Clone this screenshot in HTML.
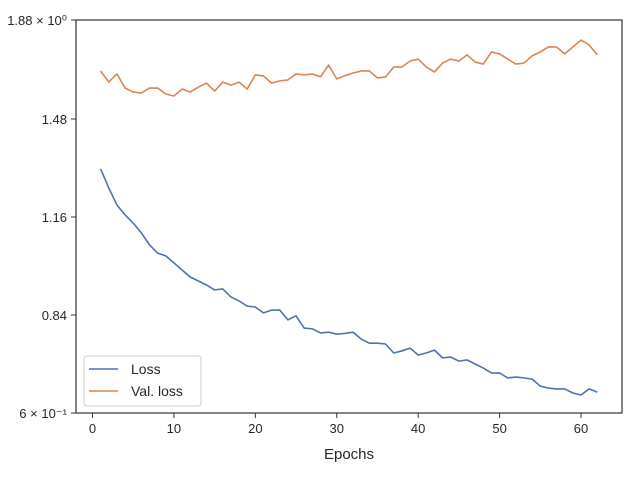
<!DOCTYPE html>
<html><head><meta charset="utf-8"><style>
body{margin:0;background:#fff;}
svg{font-family:"Liberation Sans","DejaVu Sans",sans-serif;}
</style></head><body>
<svg id="chart" width="640" height="480"></svg>
<script>
const lossValues = [1.317,1.255,1.199,1.167,1.140,1.108,1.069,1.042,1.033,1.010,0.987,0.964,0.951,0.938,0.922,0.925,0.899,0.886,0.869,0.866,0.847,0.856,0.856,0.828,0.838,0.808,0.806,0.796,0.798,0.793,0.795,0.798,0.781,0.771,0.771,0.769,0.747,0.752,0.759,0.742,0.747,0.754,0.735,0.737,0.727,0.730,0.720,0.710,0.698,0.698,0.686,0.688,0.686,0.683,0.666,0.661,0.659,0.659,0.649,0.644,0.659,0.651];
const valLossValues = [1.674,1.629,1.662,1.605,1.589,1.585,1.605,1.605,1.581,1.573,1.601,1.589,1.609,1.625,1.593,1.629,1.617,1.629,1.601,1.658,1.654,1.625,1.634,1.638,1.662,1.658,1.662,1.650,1.698,1.642,1.655,1.666,1.674,1.674,1.646,1.650,1.690,1.690,1.714,1.722,1.690,1.670,1.706,1.722,1.714,1.739,1.710,1.702,1.751,1.743,1.722,1.702,1.706,1.735,1.751,1.771,1.771,1.743,1.771,1.799,1.779,1.739];
const epochs = lossValues.map((_,i)=>i+1);
const xTicks = [0,10,20,30,40,50,60];
const yTickValues = [0.6,0.84,1.16,1.48,1.88];
const yTickLabels = ["6 × 10⁻¹","0.84","1.16","1.48","1.88 × 10⁰"];

const L=76,R=622,T=20,B=413;
const NS="http://www.w3.org/2000/svg";
const svg=document.getElementById('chart');
function X(v){return 92.5+(v)*(581-92.5)/60;}
const yPix=[413,315,217,119,20];
function Y(v){
  const t=yTickValues;
  let i=0; while(i<t.length-2 && v>t[i+1]) i++;
  return yPix[i]+(v-t[i])/(t[i+1]-t[i])*(yPix[i+1]-yPix[i]);
}
function mk(tag,attrs,parent){const e=document.createElementNS(NS,tag);for(const k in attrs)e.setAttribute(k,attrs[k]);(parent||svg).appendChild(e);return e;}

xTicks.forEach(v=>{
  const g=mk('g',{});
  
  
  mk('line',{x1:X(v),x2:X(v),y1:B,y2:B+5,stroke:'#333','stroke-width':1},g);
  const t=mk('text',{x:X(v),y:B+20,'text-anchor':'middle','font-size':13,fill:'#262626'},g);t.textContent=v;
});
yTickValues.forEach((v,i)=>{
  const g=mk('g',{});
  
  
  mk('line',{x1:L-5,x2:L,y1:Y(v),y2:Y(v),stroke:'#333','stroke-width':1},g);
  const t=mk('text',{x:L-9,y:Y(v)+5,'text-anchor':'end','font-size':13,fill:'#262626'},g);t.textContent=yTickLabels[i];
});
function series(vals,color,name){
  const p=mk('polyline',{points:vals.map((v,i)=>X(epochs[i])+','+Y(v)).join(' '),fill:'none',stroke:color,'stroke-width':1.6,'stroke-linejoin':'round'});
  
  
}
series(lossValues,'#4c72b0','loss-line');
series(valLossValues,'#dd8452','val-loss-line');
const frame=mk('rect',{x:L,y:T,width:R-L,height:B-T,fill:'none',stroke:'#333','stroke-width':1.2});


const xl=mk('text',{x:(L+R)/2,y:459,'text-anchor':'middle','font-size':15,fill:'#262626'});
xl.textContent='Epochs';


const lg=mk('g',{});


mk('rect',{x:84,y:356,width:117,height:50,rx:3,fill:'#fff','fill-opacity':0.8,stroke:'#ccc'},lg);
[['Loss','#4c72b0',369],['Val. loss','#dd8452',391]].forEach(([n,c,y])=>{
  const e=mk('g',{},lg);
  
  
  mk('line',{x1:89,x2:118,y1:y,y2:y,stroke:c,'stroke-width':1.6},e);
  const t=mk('text',{x:131,y:y+5,'font-size':14,fill:'#262626'},e);t.textContent=n;
});
</script>
</body></html>
